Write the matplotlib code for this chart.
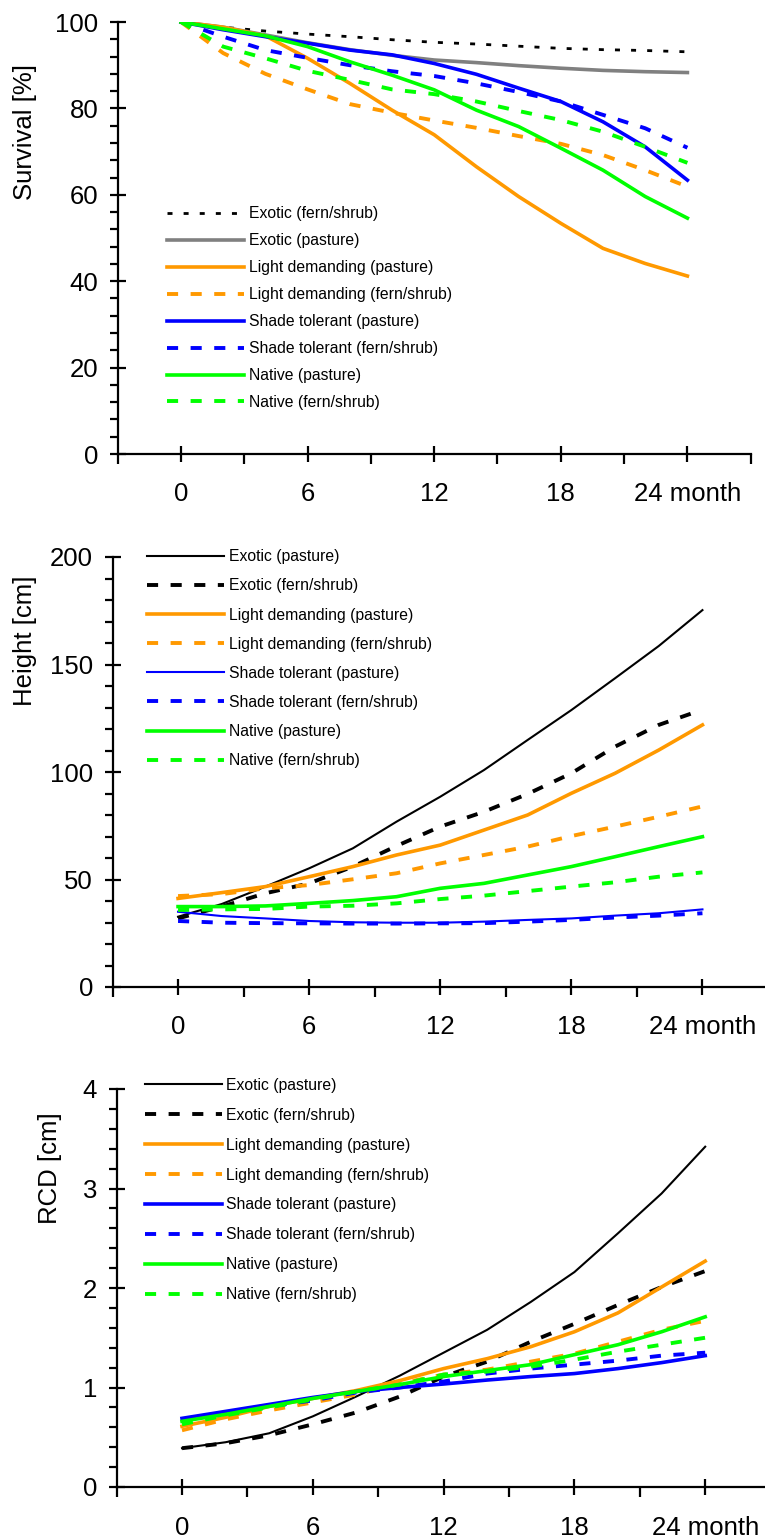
import matplotlib
matplotlib.use("Agg")
import matplotlib.pyplot as plt
from matplotlib.ticker import MultipleLocator

plt.rcParams["font.family"] = ["Liberation Sans", "DejaVu Sans"]
plt.rcParams["lines.scale_dashes"] = False

ORANGE = "#FF9900"
BLUE = "#0000FF"
GREEN = "#00FF00"
GREY = "#808080"

months = [0, 2, 4, 6, 8, 10, 12, 14, 16, 18, 20, 22, 24]
xtick_labels = ["0", "6", "12", "18", "24 month"]

# Survival [%]
surv_exotic_fern = [100, 98.8, 97.9, 97.2, 96.6, 95.9, 95.3, 94.9, 94.4, 93.9, 93.6, 93.4, 93.1]
surv_exotic_past = [100, 98.8, 97.0, 95.2, 93.6, 92.3, 91.2, 90.6, 89.9, 89.3, 88.8, 88.5, 88.3]
surv_light_past = [100, 98.8, 96.8, 91.6, 85.8, 79.6, 73.9, 66.5, 59.6, 53.4, 47.6, 44.1, 41.2]
surv_light_fern = [100, 92.8, 88.0, 84.4, 81.0, 79.0, 77.2, 75.5, 73.6, 71.8, 69.2, 65.7, 61.9]
surv_shade_past = [100, 98.2, 96.6, 95.1, 93.5, 92.4, 90.4, 87.9, 84.7, 81.6, 76.9, 71.1, 63.4]
surv_shade_fern = [100, 96.6, 93.5, 91.7, 90.0, 88.6, 87.5, 85.8, 83.8, 81.6, 78.5, 75.4, 70.9]
surv_native_past = [100, 98.4, 96.8, 94.3, 90.8, 87.7, 84.3, 79.6, 75.8, 70.8, 65.7, 59.6, 54.6]
surv_native_fern = [100, 94.3, 91.6, 88.7, 86.6, 84.4, 83.3, 81.6, 79.4, 77.3, 74.6, 71.1, 67.4]

# Height [cm]
hgt_exotic_past = [32.7, 38.6, 46.7, 55.2, 64.5, 76.9, 88.5, 100.9, 114.9, 128.8, 143.6, 158.6, 175.3]
hgt_exotic_fern = [31.9, 37.4, 43.6, 48.2, 56.0, 65.6, 74.6, 81.5, 89.8, 99.4, 111.8, 121.9, 129.0]
hgt_light_past = [41.2, 43.9, 46.7, 51.3, 56.0, 61.4, 66.0, 73.0, 80.0, 90.1, 99.4, 110.2, 121.9]
hgt_light_fern = [42.3, 43.2, 45.9, 47.4, 50.1, 52.9, 57.5, 61.4, 65.3, 70.2, 74.6, 79.2, 84.0]
hgt_shade_past = [35.0, 33.0, 31.9, 30.7, 30.1, 29.9, 29.9, 30.4, 31.2, 31.9, 33.2, 34.3, 36.1]
hgt_shade_fern = [30.7, 29.9, 29.7, 29.6, 29.5, 29.5, 29.6, 29.7, 30.4, 31.2, 32.3, 33.2, 34.3]
hgt_native_past = [37.4, 37.4, 37.7, 38.9, 40.2, 42.0, 45.9, 48.2, 52.1, 56.0, 60.6, 65.3, 69.9]
hgt_native_fern = [35.8, 36.1, 36.3, 37.4, 37.8, 38.9, 40.9, 42.5, 44.6, 46.7, 48.7, 51.3, 53.3]

# RCD [cm]
rcd_exotic_past = [0.39, 0.45, 0.54, 0.71, 0.91, 1.12, 1.35, 1.58, 1.86, 2.16, 2.55, 2.95, 3.42]
rcd_exotic_fern = [0.39, 0.44, 0.52, 0.63, 0.75, 0.91, 1.11, 1.26, 1.46, 1.64, 1.83, 2.01, 2.17]
rcd_light_past = [0.61, 0.70, 0.81, 0.89, 0.97, 1.07, 1.19, 1.29, 1.41, 1.56, 1.75, 2.01, 2.27]
rcd_light_fern = [0.57, 0.68, 0.77, 0.85, 0.93, 1.04, 1.13, 1.18, 1.26, 1.34, 1.46, 1.58, 1.67]
rcd_shade_past = [0.69, 0.76, 0.83, 0.90, 0.96, 1.00, 1.035, 1.075, 1.11, 1.14, 1.19, 1.25, 1.32]
rcd_shade_fern = [0.68, 0.74, 0.81, 0.87, 0.95, 1.00, 1.06, 1.14, 1.19, 1.23, 1.27, 1.32, 1.35]
rcd_native_past = [0.66, 0.73, 0.81, 0.89, 0.96, 1.03, 1.11, 1.17, 1.23, 1.33, 1.43, 1.56, 1.71]
rcd_native_fern = [0.63, 0.72, 0.80, 0.88, 0.96, 1.03, 1.13, 1.16, 1.21, 1.28, 1.36, 1.43, 1.50]

DASH = (0, (8, 9))
DOT = (0, (3.6, 8))

fig = plt.figure(figsize=(7.65, 15.38), dpi=100)
W, H = 765.0, 1538.0


def make_axes(left, top, width, height):
    return fig.add_axes([left / W, 1 - (top + height) / H, width / W, height / H])


def style_axes(ax, ylim, ymajor, yminor, xpad, ypad):
    ax.set_xlim(-3, 27)
    ax.set_ylim(*ylim)
    ax.spines["top"].set_visible(False)
    ax.spines["right"].set_visible(False)
    for side in ("left", "bottom"):
        ax.spines[side].set_linewidth(1.6)
    ax.set_xticks([0, 6, 12, 18, 24])
    ax.set_xticklabels(xtick_labels)
    ax.xaxis.set_minor_locator(MultipleLocator(3))
    ax.yaxis.set_major_locator(MultipleLocator(ymajor))
    ax.yaxis.set_minor_locator(MultipleLocator(yminor))
    ax.tick_params(axis="both", which="major", direction="inout", length=12,
                   width=1.6, labelsize=18.5)
    ax.tick_params(axis="x", which="major", pad=xpad)
    ax.tick_params(axis="y", which="major", pad=ypad)
    ax.tick_params(axis="x", which="minor", direction="out", length=7, width=1.6)
    ax.tick_params(axis="y", which="minor", direction="out", length=6, width=1.6)


def add_legend(ax, x, y, spacing):
    ax.legend(loc="upper left", bbox_to_anchor=(x, y), frameon=False,
              fontsize=11.3, handlelength=4.9, handletextpad=0.3,
              labelspacing=spacing, borderpad=0, borderaxespad=0)


# Survival
ax1 = make_axes(117.7, 22, 633, 432)
ax1.plot(months, surv_exotic_fern, color="black", lw=2.0, ls=DOT, label="Exotic (fern/shrub)")
ax1.plot(months, surv_exotic_past, color=GREY, lw=2.6, label="Exotic (pasture)")
ax1.plot(months, surv_light_past, color=ORANGE, lw=2.6, label="Light demanding (pasture)")
ax1.plot(months, surv_light_fern, color=ORANGE, lw=2.8, ls=DASH, label="Light demanding (fern/shrub)")
ax1.plot(months, surv_shade_past, color=BLUE, lw=2.6, label="Shade tolerant (pasture)")
ax1.plot(months, surv_shade_fern, color=BLUE, lw=2.8, ls=DASH, label="Shade tolerant (fern/shrub)")
ax1.plot(months, surv_native_past, color=GREEN, lw=2.6, label="Native (pasture)")
ax1.plot(months, surv_native_fern, color=GREEN, lw=2.8, ls=DASH, label="Native (fern/shrub)")
style_axes(ax1, (0, 100), 20, 4, xpad=14.5, ypad=8)
ax1.set_ylabel("Survival [%]", fontsize=18.5)
ax1.yaxis.set_label_coords(-0.127, 0.745)
add_legend(ax1, 0.078, 0.573, 0.76)

# Height
ax2 = make_axes(112.5, 557, 655.5, 430)
ax2.plot(months, hgt_exotic_past, color="black", lw=1.5, label="Exotic (pasture)")
ax2.plot(months, hgt_exotic_fern, color="black", lw=2.8, ls=DASH, label="Exotic (fern/shrub)")
ax2.plot(months, hgt_light_past, color=ORANGE, lw=2.6, label="Light demanding (pasture)")
ax2.plot(months, hgt_light_fern, color=ORANGE, lw=2.8, ls=DASH, label="Light demanding (fern/shrub)")
ax2.plot(months, hgt_shade_past, color=BLUE, lw=1.5, label="Shade tolerant (pasture)")
ax2.plot(months, hgt_shade_fern, color=BLUE, lw=2.8, ls=DASH, label="Shade tolerant (fern/shrub)")
ax2.plot(months, hgt_native_past, color=GREEN, lw=2.6, label="Native (pasture)")
ax2.plot(months, hgt_native_fern, color=GREEN, lw=2.8, ls=DASH, label="Native (fern/shrub)")
style_axes(ax2, (0, 200), 50, 10, xpad=14.3, ypad=8)
ax2.set_ylabel("Height [cm]", fontsize=18.5)
ax2.yaxis.set_label_coords(-0.115, 0.805)
add_legend(ax2, 0.053, 1.018, 0.9)

# RCD
ax3 = make_axes(116.6, 1089, 654, 398)
ax3.plot(months, rcd_exotic_past, color="black", lw=1.5, label="Exotic (pasture)")
ax3.plot(months, rcd_exotic_fern, color="black", lw=2.8, ls=DASH, label="Exotic (fern/shrub)")
ax3.plot(months, rcd_light_past, color=ORANGE, lw=2.6, label="Light demanding (pasture)")
ax3.plot(months, rcd_light_fern, color=ORANGE, lw=2.8, ls=DASH, label="Light demanding (fern/shrub)")
ax3.plot(months, rcd_shade_past, color=BLUE, lw=2.6, label="Shade tolerant (pasture)")
ax3.plot(months, rcd_shade_fern, color=BLUE, lw=2.8, ls=DASH, label="Shade tolerant (fern/shrub)")
ax3.plot(months, rcd_native_past, color=GREEN, lw=2.6, label="Native (pasture)")
ax3.plot(months, rcd_native_fern, color=GREEN, lw=2.8, ls=DASH, label="Native (fern/shrub)")
style_axes(ax3, (0, 4), 1, 0.2, xpad=14.6, ypad=8)
ax3.set_ylabel("RCD [cm]", fontsize=18.5)
ax3.yaxis.set_label_coords(-0.0835, 0.80)
add_legend(ax3, 0.043, 1.028, 0.95)

fig.savefig("out.png", dpi=100)
